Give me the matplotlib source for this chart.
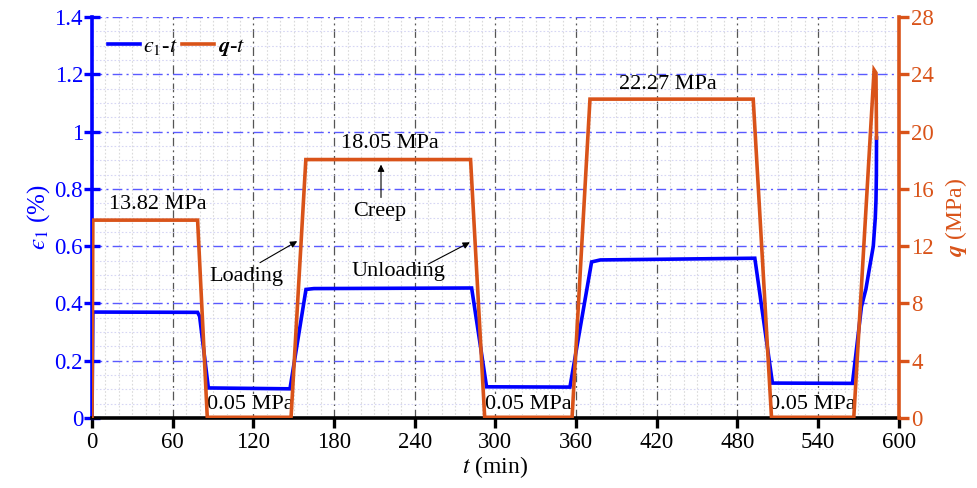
import matplotlib
matplotlib.use("Agg")
import matplotlib.pyplot as plt
from matplotlib.ticker import MultipleLocator, FormatStrFormatter
from matplotlib.lines import Line2D

plt.rcParams['font.family'] = ['Liberation Serif', 'DejaVu Serif']
plt.rcParams['mathtext.fontset'] = 'stix'

# Time (min) and deviatoric stress q (MPa)
t_q = [0, 0.6, 78.5, 85.7, 148.0, 159.0, 281.5, 292.0, 357.0, 370.3,
       491.7, 505.3, 566.5, 581.6, 583.0, 583.4]
q_vals = [0, 13.82, 13.82, 0.05, 0.05, 18.05, 18.05, 0.05, 0.05, 22.27,
          22.27, 0.05, 0.05, 24.3, 24.1, 19.55]

# Time (min) and axial strain eps1 (%)
t_eps = [0, 0.6, 78.5, 80.0, 86.5, 147.2, 159.1, 165.0, 282.3, 293.4,
         355.4, 371.5, 378.0, 492.9, 506.0, 565.5, 572.2, 575.5, 578.4,
         581.0, 582.5, 583.0, 583.3, 583.4]
eps_vals = [0, 0.37, 0.369, 0.355, 0.105, 0.102, 0.449, 0.452, 0.454, 0.109,
            0.108, 0.545, 0.552, 0.558, 0.122, 0.121, 0.389, 0.45, 0.53,
            0.60, 0.70, 0.76, 0.85, 0.978]

x_ticks = list(range(0, 601, 60))

BLUE = '#0000FF'
ORANGE = '#D95319'
FS_TICK = 16.5
FS_TEXT = 16
FS_LABEL = 17
EPS = '\u03f5'

fig = plt.figure(figsize=(9.77, 4.88), dpi=100)
ax1 = fig.add_axes([0.0942, 0.1434, 0.8258, 0.8216])
ax2 = ax1.twinx()

ax1.set_xlim(0, 600)
ax1.set_ylim(0, 1.4)
ax2.set_ylim(0, 28)

# grids on the strain axis
ax1.set_axisbelow(True)
ax1.xaxis.set_major_locator(MultipleLocator(60))
ax1.xaxis.set_minor_locator(MultipleLocator(10))
ax1.yaxis.set_major_locator(MultipleLocator(0.2))
ax1.yaxis.set_minor_locator(MultipleLocator(0.05))
ax1.xaxis.grid(True, which='major', color='#555555', linestyle=(0, (7, 3, 1.5, 3)), linewidth=0.9)
ax1.yaxis.grid(True, which='major', color='#5a5aff', linestyle=(0, (7, 3, 1.5, 3)), linewidth=1.0)
ax1.xaxis.grid(True, which='minor', color='#dadada', linestyle=(0, (1.5, 1.8)), linewidth=0.8)
ax1.yaxis.grid(True, which='minor', color='#d6d6f4', linestyle=(0, (1.5, 1.8)), linewidth=0.8)
ax1.tick_params(which='minor', length=0)
ax2.tick_params(which='minor', length=0)

ax1.yaxis.set_major_formatter(FormatStrFormatter('%g'))
ax2.yaxis.set_major_locator(MultipleLocator(4))
ax2.yaxis.set_major_formatter(FormatStrFormatter('%g'))

# curves
ax1.plot(t_eps, eps_vals, color=BLUE, linewidth=2.6, solid_joinstyle='miter', zorder=3)
ax2.plot(t_q, q_vals, color=ORANGE, linewidth=2.6, solid_joinstyle='miter', zorder=3)

# spines
for s in ['top', 'right']:
    ax1.spines[s].set_visible(False)
for s in ['top', 'left', 'bottom']:
    ax2.spines[s].set_visible(False)
ax1.spines['left'].set_color(BLUE)
ax1.spines['left'].set_linewidth(2.6)
ax1.spines['bottom'].set_color('black')
ax1.spines['bottom'].set_linewidth(2.6)
ax1.spines['bottom'].set_zorder(5)
ax2.spines['right'].set_color(ORANGE)
ax2.spines['right'].set_linewidth(2.6)

ax1.tick_params(axis='x', which='major', direction='out', length=7, width=2.4,
                color='black', labelsize=FS_TICK, labelcolor='black', pad=3)
ax1.tick_params(axis='y', which='major', direction='inout', length=11, width=2.4,
                color=BLUE, labelsize=FS_TICK, labelcolor=BLUE, pad=1)
ax2.tick_params(axis='y', which='major', direction='out', length=7, width=2.4,
                color=ORANGE, labelsize=FS_TICK, labelcolor=ORANGE, pad=2)
ax1.set_xticks(x_ticks)

ax1.set_xlabel(r'$t$ (min)', fontsize=FS_LABEL, labelpad=1)
ax1.set_ylabel('$' + EPS + '_1$ (%)', fontsize=FS_LABEL + 1, color=BLUE, labelpad=2)
ax2.set_ylabel(r'$\mathbfit{q}$ (MPa)', fontsize=FS_LABEL, color=ORANGE, labelpad=6)

# legend
handles = [Line2D([], [], color=BLUE, linewidth=2.6),
           Line2D([], [], color=ORANGE, linewidth=2.6)]
labels = ['$' + EPS + '_1$-$t$', r'$\mathbfit{q}$-$t$']
ax2.legend(handles, labels, loc='upper left', bbox_to_anchor=(0.0, 0.99), ncol=2,
           frameon=False, fontsize=FS_TEXT, handlelength=1.45, handletextpad=0.15,
           columnspacing=0.2, borderaxespad=0.3)

# stress level labels
txt = dict(fontsize=FS_TEXT, color='black', ha='center', va='center', zorder=2.5)
ax2.text(49, 14.9, '13.82 MPa', **txt)
ax2.text(221.5, 19.2, '18.05 MPa', **txt)
ax2.text(428, 23.3, '22.27 MPa', **txt)
for tx in (117.5, 324.6, 536):
    ax2.text(tx, 0.95, '0.05 MPa', bbox=dict(facecolor='white', edgecolor='none', pad=0.3), **txt)

# stage annotations
arrow = dict(arrowstyle='-|>', color='black', linewidth=0.8, mutation_scale=10, shrinkA=0, shrinkB=0)
ax2.text(213.7, 14.45, 'Creep', **txt)
ax2.annotate('', xy=(214.9, 17.7), xytext=(214.9, 15.4), arrowprops=arrow)
ax2.text(115, 9.87, 'Loading', **txt)
ax2.annotate('', xy=(152.6, 12.35), xytext=(124.9, 10.85), arrowprops=arrow)
ax2.text(228, 10.25, 'Unloading', **txt)
ax2.annotate('', xy=(281, 12.27), xytext=(250, 10.75), arrowprops=arrow)

fig.savefig('out.png', dpi=100)
